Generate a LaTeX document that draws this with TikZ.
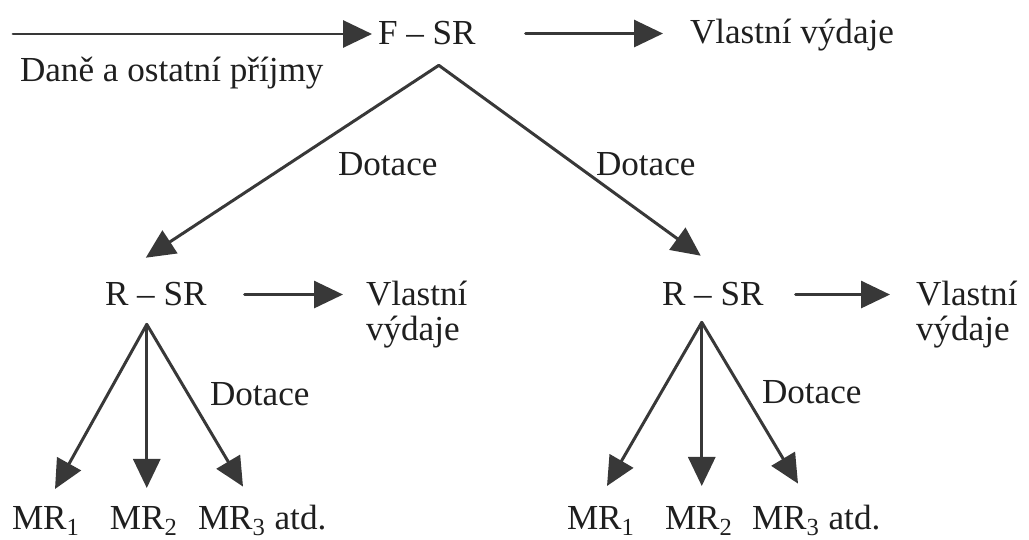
\documentclass[tikz,border=0pt]{standalone}
\usepackage{fontspec}
\setmainfont{Liberation Serif}
\usetikzlibrary{arrows.meta, calc}

\definecolor{ink}{HTML}{383838}
\tikzset{
  txt/.style={inner sep=0pt, outer sep=0pt, anchor=base west, text=black!88,
              font=\fontsize{20}{24}\selectfont},
  arr/.style={draw=ink, line width=1.7pt, -{Triangle[length=0.58cm,width=0.54cm]}},
}

\begin{document}
\begin{tikzpicture}[x=0.02cm, y=-0.02cm, line cap=round]
\useasboundingbox (0,0) rectangle (1029,540);

%%% state level (F - SR)
\node[txt] (fsr) at (378,45) {F -- SR};
\node[txt] (vv) at (690,44) {Vlastní výdaje};
\node[txt] (dane) at (20,82) {Daně a ostatní příjmy};
\coordinate (in) at (13,34);

\draw[arr, shorten >=0.12cm] (in) -- (in -| fsr.west);
\draw[arr, shorten <=1.0cm, shorten >=0.54cm] (fsr.east) -- (fsr.east -| vv.west);

% split point under F - SR
\coordinate (split) at ([shift={(12,20)}]fsr.south);

%%% regional level (R - SR)
\node[txt] (rsra) at (105,306) {R -- SR};
\node[txt] (vla) at (366,306) {Vlastní};
\node[txt] (vya) at (366,341) {výdaje};

\node[txt] (rsrb) at (662,306) {R -- SR};
\node[txt] (vlb) at (916,306) {Vlastní};
\node[txt] (vyb) at (916,341) {výdaje};

\draw[arr, shorten <=0.76cm, shorten >=0.46cm] (rsra.east) -- (rsra.east -| vla.west);
\draw[arr, shorten <=0.64cm, shorten >=0.52cm] (rsrb.east) -- (rsrb.east -| vlb.west);

% grants down to the regions
\draw[arr] (split) -- ([shift={(-10,-25)}]rsra.north);
\draw[arr] (split) -- ([shift={(-12,-27)}]rsrb.north);
\node[txt] (dota) at (338,176) {Dotace};
\node[txt] (dotb) at (596,176) {Dotace};

%%% municipal level (MR)
\foreach \i/\x in {1/12, 2/110} {
  \node[txt] (mra\i) at (\x,530) {MR\textsubscript{\i}};
}
\node[txt] (mra3) at (198,530) {MR\textsubscript{3} atd.};

\foreach \i/\x in {1/567, 2/665} {
  \node[txt] (mrb\i) at (\x,530) {MR\textsubscript{\i}};
}
\node[txt] (mrb3) at (752,530) {MR\textsubscript{3} atd.};

% fan points under R - SR
\coordinate (fana) at ([shift={(-9,18)}]rsra.south);
\coordinate (fanb) at ([shift={(-11,16)}]rsrb.south);

\draw[arr] (fana) -- ([shift={(43,-18)}]mra1.north west);
\draw[arr, shorten >=0.38cm] (fana) -- (fana |- mra2.north);
\draw[arr] (fana) -- ([shift={(45,-19)}]mra3.north west);
\node[txt] (dotc) at (210,406) {Dotace};

\draw[arr] (fanb) -- ([shift={(40,-21)}]mrb1.north west);
\draw[arr, shorten >=0.42cm] (fanb) -- (fanb |- mrb2.north);
\draw[arr] (fanb) -- ([shift={(46,-22)}]mrb3.north west);
\node[txt] (dotd) at (762,404) {Dotace};

\end{tikzpicture}
\end{document}
